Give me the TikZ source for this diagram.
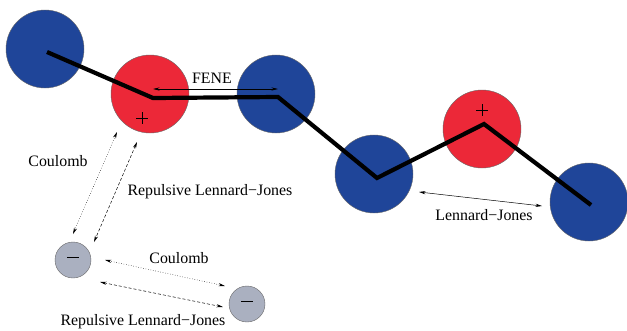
\documentclass[tikz,border=0pt]{standalone}
\usepackage{fontspec}
\setmainfont{Liberation Serif}
\usetikzlibrary{arrows.meta}
\definecolor{beadblue}{RGB}{31,69,153}
\definecolor{beadred}{RGB}{236,40,56}
\definecolor{iongrey}{RGB}{170,176,192}
\begin{document}
\begin{tikzpicture}[x=1pt,y=-1pt,
  bead/.style={circle,draw=black!60,line width=0.4pt,minimum size=78pt,inner sep=0pt},
  blue bead/.style={bead,fill=beadblue},
  red bead/.style={bead,fill=beadred},
  ion/.style={circle,draw=black!60,line width=0.4pt,fill=iongrey,minimum size=36pt,inner sep=0pt},
  chain/.style={line width=4.2pt,line join=miter},
  lbl/.style={font=\fontsize{15.9}{19}\selectfont,inner sep=0pt},
  force/.style={line width=0.5pt,{Stealth[length=6.5pt,width=3.2pt]}-{Stealth[length=6.5pt,width=3.2pt]}},
  dotforce/.style={force,dotted},
  dashforce/.style={force,dash pattern=on 3pt off 2pt},
  sign/.style={line width=0.6pt}]
\useasboundingbox (0,0) rectangle (627,330);
% beads
\node[blue bead] (b1) at (45,49) {};
\node[red bead] (b2) at (150,94) {};
\node[blue bead] (b3) at (276,94) {};
\node[blue bead] (b4) at (374,174) {};
\node[red bead] (b5) at (482,129) {};
\node[blue bead] (b6) at (589,202) {};
% chain vertices
\coordinate (c1) at (47,52);
\coordinate (c2) at (153,98);
\coordinate (c3) at (278,97);
\coordinate (c4) at (377,178);
\coordinate (c5) at (484,124);
\coordinate (c6) at (591,205);
\draw[chain] (c1) -- (c2) -- (c3) -- (c4) -- (c5) -- (c6);
% charges on beads
\draw[sign] (142,112) -- (142,124) (136,118) -- (148,118);
\draw[sign] (482,104) -- (482,116) (476,110) -- (488,110);
% ions
\node[ion] (i1) at (73,260) {};
\node[ion] (i2) at (247,304) {};
\draw[sign] (i1.center) ++(-6,-3) -- ++(12,0);
\draw[sign] (i2.center) ++(-6,-3) -- ++(12,0);
% FENE
\coordinate (f1) at (153,89);
\coordinate (f2) at (278,89);
\draw[force] (f1) -- (f2);
\node[lbl] (fene) at (212,78) {FENE};
% Lennard-Jones between beads
\coordinate (lj1) at (419,192);
\coordinate (lj2) at (542,206);
\draw[force] (lj1) -- (lj2);
\node[lbl] (ljtext) at (484,215) {Lennard−Jones};
% red bead to ion
\coordinate (rc1) at (117,132);
\coordinate (rc2) at (73,234);
\draw[dotforce] (rc1) -- (rc2);
\coordinate (rr1) at (137,142);
\coordinate (rr2) at (94,242);
\draw[dashforce] (rr1) -- (rr2);
\node[lbl] (coul1) at (58,161) {Coulomb};
\node[lbl] (rlj1) at (210,192) {Repulsive Lennard−Jones};
% ion to ion
\coordinate (ic1) at (105,260);
\coordinate (ic2) at (225,286);
\draw[dotforce] (ic1) -- (ic2);
\coordinate (ir1) at (100,282);
\coordinate (ir2) at (223,307);
\draw[dashforce] (ir1) -- (ir2);
\node[lbl] (coul2) at (179,258) {Coulomb};
\node[lbl] (rlj2) at (143,322) {Repulsive Lennard−Jones};
\end{tikzpicture}
\end{document}
